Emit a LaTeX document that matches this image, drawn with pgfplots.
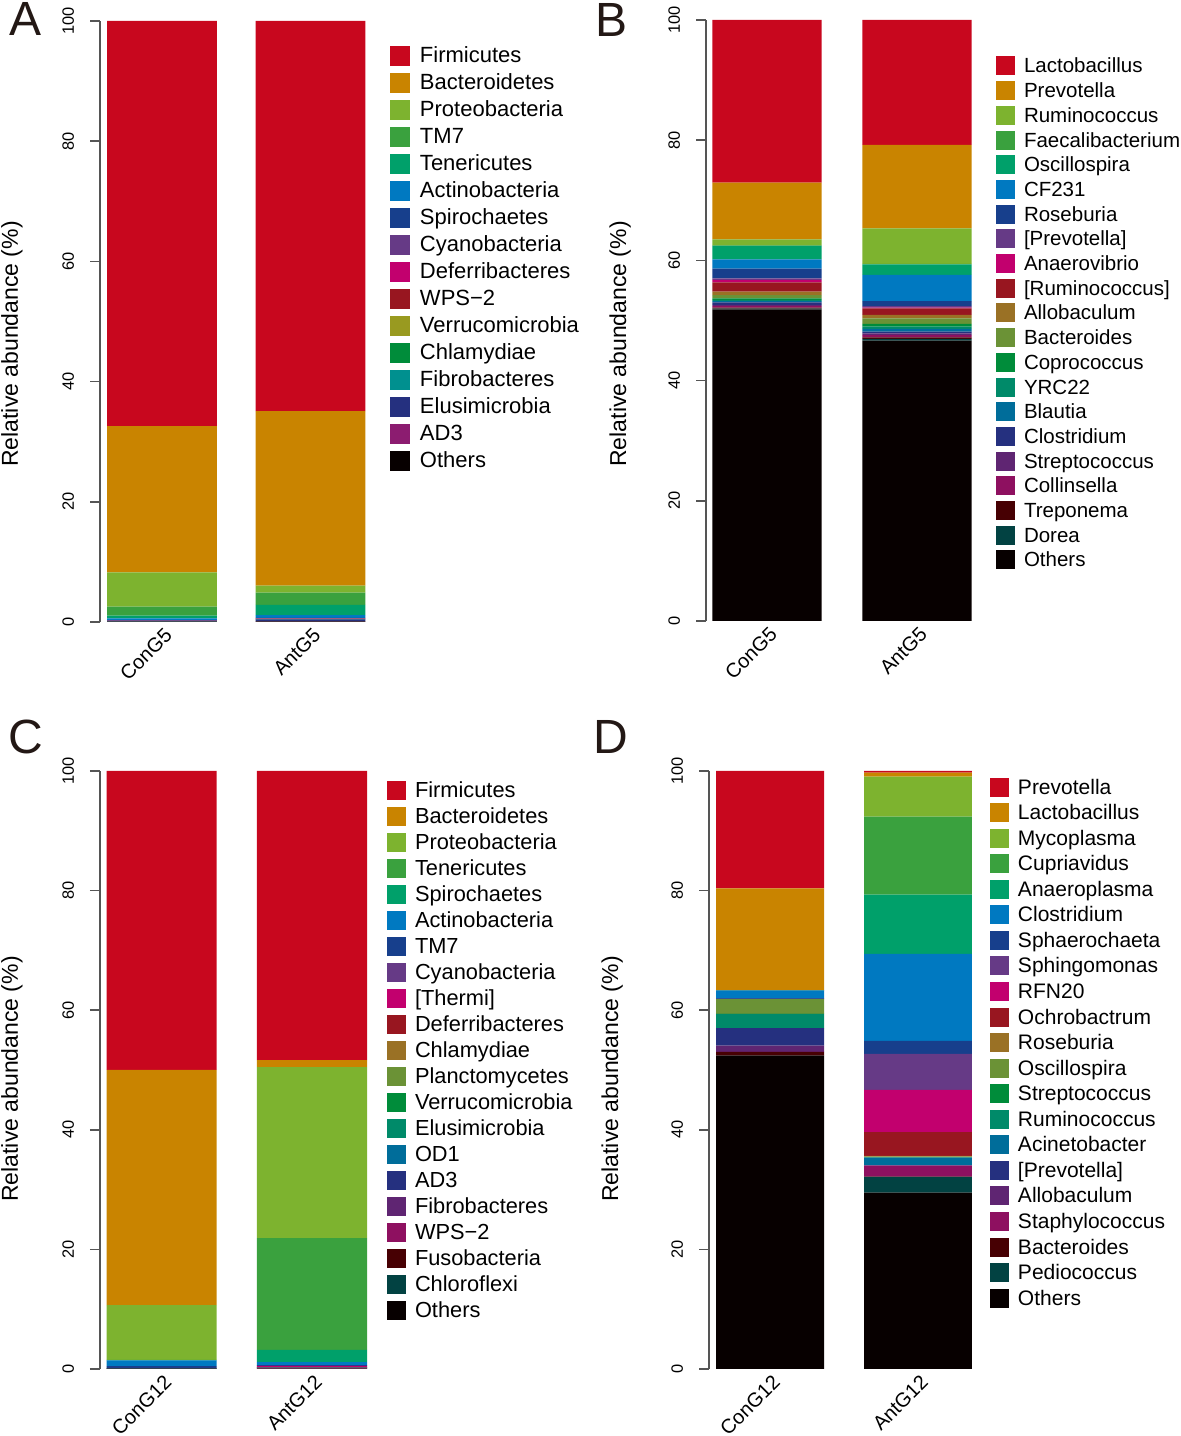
\documentclass[border=0pt]{standalone}
\usepackage{fontspec}
\setmainfont{Liberation Sans}
\usepackage{pgfplots}
\pgfplotsset{compat=1.18}
\definecolor{c1}{HTML}{C8071E}
\definecolor{c2}{HTML}{C98400}
\definecolor{c3}{HTML}{7DB32F}
\definecolor{c4}{HTML}{3AA13E}
\definecolor{c5}{HTML}{00A06A}
\definecolor{c6}{HTML}{0079C1}
\definecolor{c7}{HTML}{173F8C}
\definecolor{c8}{HTML}{663A86}
\definecolor{c9}{HTML}{C2006E}
\definecolor{c10}{HTML}{981620}
\definecolor{c11}{HTML}{9A7125}
\definecolor{c12}{HTML}{6B9236}
\definecolor{c13}{HTML}{008C3A}
\definecolor{c14}{HTML}{008A69}
\definecolor{c15}{HTML}{006D9A}
\definecolor{c16}{HTML}{25307F}
\definecolor{c17}{HTML}{5F2572}
\definecolor{c18}{HTML}{8E1060}
\definecolor{c19}{HTML}{470003}
\definecolor{c20}{HTML}{024242}
\definecolor{cO}{HTML}{070000}
\definecolor{cA11}{HTML}{999A20}
\definecolor{cA13}{HTML}{00908F}
\definecolor{cA15}{HTML}{8C1C70}
\definecolor{axc}{HTML}{555555}
\definecolor{txt}{HTML}{231815}
\newcommand\bb[4]{\addplot[fill=#1,draw=none] coordinates {(0,#2) (1,#3)};\addlegendentry{#4}}
\pgfplotsset{
 panel/.style={
  scale only axis, ybar stacked, ymin=0, ymax=100, ytick={0,20,40,60,80,100},
  axis lines*=left, x axis line style={draw=none}, xtick style={draw=none},
  y axis line style={draw=axc, line width=0.75pt}, ytick style={draw=axc, line width=0.75pt},
  tick align=outside, major tick length=5pt,
  xtick={0,1},
  /pgf/number format/assume math mode=true,
  yticklabel style={rotate=90, anchor=south, font=\fontsize{8.2}{9}\selectfont, yshift=4.5pt},
  xticklabel style={rotate=45, anchor=north east, inner sep=0pt, xshift=2.5pt, yshift=1.6pt, font=\fontsize{10}{12}\selectfont},
  ylabel={Relative abundance (\%)},
  ylabel style={font=\fontsize{11.5}{13}\selectfont, anchor=center},
  reverse legend, legend cell align=left,
  legend style={draw=none, fill=none, anchor=north west, inner sep=0pt, outer sep=0pt},
 },
 sq10/.style={legend image code/.code={\fill[##1,draw=none] (0pt,-5pt) rectangle (10pt,5pt);},
   legend style={nodes={inner sep=0pt, text height=8.5pt, text depth=1.5pt},
   /tikz/every odd column/.append style={column sep=5pt}}},
 sq95/.style={legend image code/.code={\fill[##1,draw=none] (0pt,-4.75pt) rectangle (9.5pt,4.75pt);},
   legend style={nodes={inner sep=0pt, text height=8.25pt, text depth=1.25pt},
   /tikz/every odd column/.append style={column sep=4.5pt}}},
}
\begin{document}
\begin{tikzpicture}[x=1pt,y=1pt]
\useasboundingbox (0,0) rectangle (590.5,718);
\node[font=\fontsize{24}{24}\selectfont, text=txt] at (13,708.5) {A};
\node[font=\fontsize{24}{24}\selectfont, text=txt] at (306,708) {B};
\node[font=\fontsize{24}{24}\selectfont, text=txt] at (13,349.5) {C};
\node[font=\fontsize{24}{24}\selectfont, text=txt] at (305.5,349.5) {D};

% Panel A
\begin{axis}[panel, sq10, at={(50pt,407pt)}, anchor=south west, width=136.25pt, height=300.5pt,
  xmin=-0.4175, xmax=1.4175, bar width=0.7374, xticklabels={ConG5,AntG5},
  ylabel style={at={(axis description cs:-0.323,0.4626)}},
  legend style={at={(axis description cs:1.0642,0.9584)}, font=\fontsize{11}{13}\selectfont, row sep=3.5pt}]
\bb{cO}{0.05}{0.1}{Others}
\bb{cA15}{0.02}{0.05}{AD3}
\bb{c16}{0.02}{0.3}{Elusimicrobia}
\bb{cA13}{0.02}{0.02}{Fibrobacteres}
\bb{c13}{0.02}{0.02}{Chlamydiae}
\bb{cA11}{0.02}{0.02}{Verrucomicrobia}
\bb{c10}{0.02}{0.02}{WPS−2}
\bb{c9}{0.02}{0.02}{Deferribacteres}
\bb{c8}{0.02}{0.05}{Cyanobacteria}
\bb{c7}{0.1}{0.1}{Spirochaetes}
\bb{c6}{0.3}{0.45}{Actinobacteria}
\bb{c5}{0.43}{1.68}{Tenericutes}
\bb{c4}{1.5}{2.05}{TM7}
\bb{c3}{5.7}{1.16}{Proteobacteria}
\bb{c2}{24.36}{29.06}{Bacteroidetes}
\bb{c1}{67.4}{64.9}{Firmicutes}
\end{axis}

% Panel B
\begin{axis}[panel, sq95, at={(353pt,407.5pt)}, anchor=south west, width=136pt, height=300.5pt,
  xmin=-0.4067, xmax=1.4067, bar width=0.7293, xticklabels={ConG5,AntG5},
  ylabel style={at={(axis description cs:-0.316,0.461)}},
  legend style={at={(axis description cs:1.0662,0.9393)}, font=\fontsize{10.25}{12}\selectfont, row sep=2.85pt}]
\bb{cO}{51.86}{46.64}{Others}
\bb{c20}{0.12}{0.3}{Dorea}
\bb{c19}{0.15}{0.26}{Treponema}
\bb{c18}{0.25}{0.35}{Collinsella}
\bb{c17}{0.2}{0.3}{Streptococcus}
\bb{c16}{0.45}{0.29}{Clostridium}
\bb{c15}{0.2}{0.45}{Blautia}
\bb{c14}{0.18}{0.38}{YRC22}
\bb{c13}{0.28}{0.45}{Coprococcus}
\bb{c12}{0.55}{0.95}{Bacteroides}
\bb{c11}{0.55}{0.55}{Allobaculum}
\bb{c10}{1.57}{1.11}{[Ruminococcus]}
\bb{c9}{0.38}{0.1}{Anaerovibrio}
\bb{c8}{0.28}{0.28}{[Prevotella]}
\bb{c7}{1.63}{0.83}{Roseburia}
\bb{c6}{1.53}{4.33}{CF231}
\bb{c5}{2.23}{1.78}{Oscillospira}
\bb{c4}{0.1}{0.05}{Faecalibacterium}
\bb{c3}{1.0}{5.94}{Ruminococcus}
\bb{c2}{9.42}{13.86}{Prevotella}
\bb{c1}{27.07}{20.8}{Lactobacillus}
\end{axis}

% Panel C
\begin{axis}[panel, sq95, at={(50pt,33.5pt)}, anchor=south west, width=136.85pt, height=299pt,
  xmin=-0.4105, xmax=1.4105, bar width=0.7319, xticklabels={ConG12,AntG12},
  ylabel style={at={(axis description cs:-0.3215,0.485)}},
  legend style={at={(axis description cs:1.0486,0.9841)}, font=\fontsize{10.9}{13}\selectfont, row sep=3.5pt}]
\bb{cO}{0.04}{0.05}{Others}
\bb{c20}{0.01}{0.01}{Chloroflexi}
\bb{c19}{0.01}{0.01}{Fusobacteria}
\bb{c18}{0.01}{0.1}{WPS−2}
\bb{c17}{0.01}{0.01}{Fibrobacteres}
\bb{c16}{0.01}{0.01}{AD3}
\bb{c15}{0.01}{0.01}{OD1}
\bb{c14}{0.01}{0.01}{Elusimicrobia}
\bb{c13}{0.01}{0.01}{Verrucomicrobia}
\bb{c12}{0.01}{0.01}{Planctomycetes}
\bb{c11}{0.01}{0.01}{Chlamydiae}
\bb{c10}{0.01}{0.02}{Deferribacteres}
\bb{c9}{0.01}{0.25}{[Thermi]}
\bb{c8}{0.02}{0.02}{Cyanobacteria}
\bb{c7}{0.3}{0.1}{TM7}
\bb{c6}{0.95}{0.5}{Actinobacteria}
\bb{c5}{0.05}{2.05}{Spirochaetes}
\bb{c4}{0.05}{18.72}{Tenericutes}
\bb{c3}{9.15}{28.6}{Proteobacteria}
\bb{c2}{39.33}{1.17}{Bacteroidetes}
\bb{c1}{50.0}{48.33}{Firmicutes}
\end{axis}

% Panel D
\begin{axis}[panel, sq95, at={(354.5pt,33.5pt)}, anchor=south west, width=135pt, height=299pt,
  xmin=-0.4122, xmax=1.4122, bar width=0.7297, xticklabels={ConG12,AntG12},
  ylabel style={at={(axis description cs:-0.359,0.485)}},
  legend style={at={(axis description cs:1.0407,0.9891)}, font=\fontsize{10.5}{12}\selectfont, row sep=3.28pt}]
\bb{cO}{52.4}{29.48}{Others}
\bb{c20}{0.01}{2.63}{Pediococcus}
\bb{c19}{0.61}{0.05}{Bacteroides}
\bb{c18}{0.01}{1.85}{Staphylococcus}
\bb{c17}{1.05}{0.05}{Allobaculum}
\bb{c16}{2.91}{0.05}{[Prevotella]}
\bb{c15}{0.01}{1.22}{Acinetobacter}
\bb{c14}{2.39}{0.05}{Ruminococcus}
\bb{c13}{0.01}{0.04}{Streptococcus}
\bb{c12}{2.46}{0.1}{Oscillospira}
\bb{c11}{0.01}{0.1}{Roseburia}
\bb{c10}{0.01}{4.01}{Ochrobactrum}
\bb{c9}{0.01}{7.03}{RFN20}
\bb{c8}{0.01}{6.02}{Sphingomonas}
\bb{c7}{0.01}{2.17}{Sphaerochaeta}
\bb{c6}{1.39}{14.55}{Clostridium}
\bb{c5}{0.01}{9.91}{Anaeroplasma}
\bb{c4}{0.01}{13.05}{Cupriavidus}
\bb{c3}{0.01}{6.69}{Mycoplasma}
\bb{c2}{17.06}{0.67}{Lactobacillus}
\bb{c1}{19.61}{0.28}{Prevotella}
\end{axis}
\end{tikzpicture}
\end{document}
